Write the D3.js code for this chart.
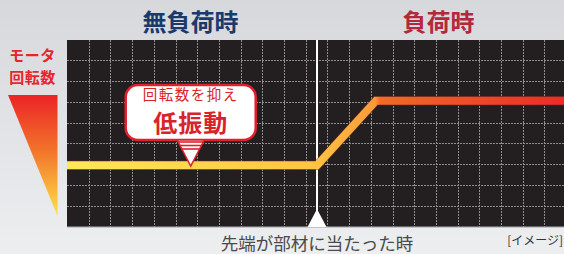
<!DOCTYPE html>
<html><head><meta charset="utf-8">
<script src="https://cdn.jsdelivr.net/npm/d3@7"></script>
<style>html,body{margin:0;padding:0;background:#e3e5e8;}svg{display:block;}</style>
</head><body>
<script>
// ---- data ----
const phaseLabels = ["無負荷時", "負荷時"];
const axisLabel = ["モータ", "回転数"];
const eventLabel = "先端が部材に当たった時";
const noteLabel = "[イメージ]";
const calloutSmall = "回転数を抑え";
const calloutBig = "低振動";
const timeValues = [0, 11.52, 14.24, 22.9];   // grid units along x
const rpmValues  = [2.95, 2.95, 6.05, 6.05];  // grid units along y
const eventTime = 11.52;
const calloutTime = 5.7;
const xGridTicks = [1,2,3,4,5,6,7,8,9,10,11,12,13,14,15,16,17,18,19,20,21,22];
const yGridTicks = [1,2,3,4,5,6,7,8];

const W = 564, H = 254;
const font = "'Noto Sans CJK JP','Noto Sans',sans-serif";
const svg = d3.select("body").append("svg").attr("width", W).attr("height", H);
const defs = svg.append("defs");

const bg = defs.append("linearGradient").attr("id","bg").attr("x1",0).attr("y1",0).attr("x2",0).attr("y2",1);
bg.append("stop").attr("offset","0").attr("stop-color","#d6d8dc");
bg.append("stop").attr("offset","1").attr("stop-color","#eceef0");
svg.append("rect").attr("width",W).attr("height",H).attr("fill","url(#bg)");

const x = d3.scaleLinear().domain([0, 22.9]).range([67, 564]);
const y = d3.scaleLinear().domain([0, 9]).range([226.9, 39.1]);

// plot area
svg.append("rect").attr("x", x(0)).attr("y", 40).attr("width", W - x(0)).attr("height", y(0) - 40)
  .attr("fill", "#231f20");
svg.append("line").attr("x1", x(0)).attr("x2", W).attr("y1", y(0)).attr("y2", y(0))
  .attr("stroke", "#8a8a8c").attr("stroke-width", 1);

// grid
const grid = svg.append("g").attr("stroke", "#8e8e8e").attr("stroke-width", 1).attr("stroke-dasharray", "2,1");
grid.selectAll("line.v").data(xGridTicks).join("line").attr("class","v")
  .attr("x1", d => Math.round(x(d)) + 0.5).attr("x2", d => Math.round(x(d)) + 0.5)
  .attr("y1", 40).attr("y2", y(0));
grid.selectAll("line.h").data(yGridTicks).join("line").attr("class","h")
  .attr("y1", d => Math.round(y(d)) + 0.5).attr("y2", d => Math.round(y(d)) + 0.5)
  .attr("x1", x(0)).attr("x2", W);

// event line
svg.append("line").attr("x1", x(eventTime)).attr("x2", x(eventTime)).attr("y1", 40).attr("y2", y(0))
  .attr("stroke", "#fff").attr("stroke-width", 2);
const ex = x(eventTime);
svg.append("path").attr("d", `M${ex},209 L${ex+9.5},${y(0)} L${ex-9.5},${y(0)} Z`).attr("fill", "#fff");

// rpm line gradient
const lg = defs.append("linearGradient").attr("id","lg").attr("gradientUnits","userSpaceOnUse")
  .attr("x1", x(0)).attr("x2", W).attr("y1", 0).attr("y2", 0);
[[0,"#ffe85a"],[0.5,"#ffc444"],[0.62,"#f89a3a"],[0.63,"#f26a2a"],[1,"#ee2a2a"]]
  .forEach(s => lg.append("stop").attr("offset", s[0]).attr("stop-color", s[1]));

const pts = timeValues.map((t, i) => [t, rpmValues[i]]);
const lineGen = d3.line().x(d => x(d[0])).y(d => y(d[1]));
svg.append("path").attr("d", lineGen(pts)).attr("fill","none")
  .attr("stroke", "rgba(120,40,20,0.55)").attr("stroke-width", 9.5).attr("stroke-linejoin","miter");
svg.append("path").attr("d", lineGen(pts)).attr("fill","none")
  .attr("stroke", "url(#lg)").attr("stroke-width", 8).attr("stroke-linejoin","miter");

// titles
svg.append("text").attr("x", 190.5).attr("y", 31).attr("text-anchor","middle")
  .attr("font-family", font).attr("font-weight", 700).attr("font-size", 24).attr("fill", "#1b3a6b")
  .text(phaseLabels[0]);
svg.append("text").attr("x", 438.5).attr("y", 31).attr("text-anchor","middle")
  .attr("font-family", font).attr("font-weight", 700).attr("font-size", 24).attr("fill", "#b3283c")
  .text(phaseLabels[1]);

// left axis label
axisLabel.forEach((t, i) => {
  svg.append("text").attr("x", 32.5).attr("y", 60.5 + i * 22).attr("text-anchor","middle")
    .attr("font-family", font).attr("font-weight", 700).attr("font-size", 15).attr("fill", "#e8262a")
    .attr("letter-spacing", 0.5)
    .text(t);
});
const tg = defs.append("linearGradient").attr("id","tg").attr("x1",0).attr("y1",0).attr("x2",0).attr("y2",1);
tg.append("stop").attr("offset","0").attr("stop-color","#ec2327");
tg.append("stop").attr("offset","0.45").attr("stop-color","#f2722a");
tg.append("stop").attr("offset","1").attr("stop-color","#ffe24a");
svg.append("path").attr("d", "M8,95 L57.5,95 L57.5,216 Z").attr("fill","url(#tg)");

// callout
const cx = x(calloutTime);
const cg = svg.append("g");
cg.append("rect").attr("x", cx - 65).attr("y", 85).attr("width", 130).attr("height", 55).attr("rx", 12)
  .attr("fill", "#fff").attr("stroke", "#e0202a").attr("stroke-width", 2.5);
cg.append("path").attr("d", `M${cx-13.5},140 L${cx+13.5},140 L${cx},166 Z`)
  .attr("fill", "#fff").attr("stroke", "#e0202a").attr("stroke-width", 1.5).attr("stroke-linejoin","miter");
[142, 145.5, 149].forEach(yy => {
  const half = 13.5 * (166 - yy) / 26;
  cg.append("line").attr("x1", cx - half).attr("x2", cx + half).attr("y1", yy).attr("y2", yy)
    .attr("stroke", "#e0202a").attr("stroke-width", 1.6);
});
cg.append("text").attr("x", cx).attr("y", 100).attr("text-anchor","middle")
  .attr("font-family", font).attr("font-size", 14.5).attr("fill", "#d8232a").attr("letter-spacing", 1.5)
  .text(calloutSmall);
cg.append("text").attr("x", cx).attr("y", 132).attr("text-anchor","middle")
  .attr("font-family", font).attr("font-weight", 700).attr("font-size", 24).attr("fill", "#d8232a")
  .attr("letter-spacing", 1)
  .text(calloutBig);

// bottom labels
svg.append("text").attr("x", ex).attr("y", 250).attr("text-anchor","middle")
  .attr("font-family", font).attr("font-size", 17.5).attr("fill", "#4a4a4a").text(eventLabel);
svg.append("text").attr("x", 563).attr("y", 245).attr("text-anchor","end")
  .attr("font-family", font).attr("font-size", 12).attr("fill", "#333").text(noteLabel);
</script>
</body></html>
